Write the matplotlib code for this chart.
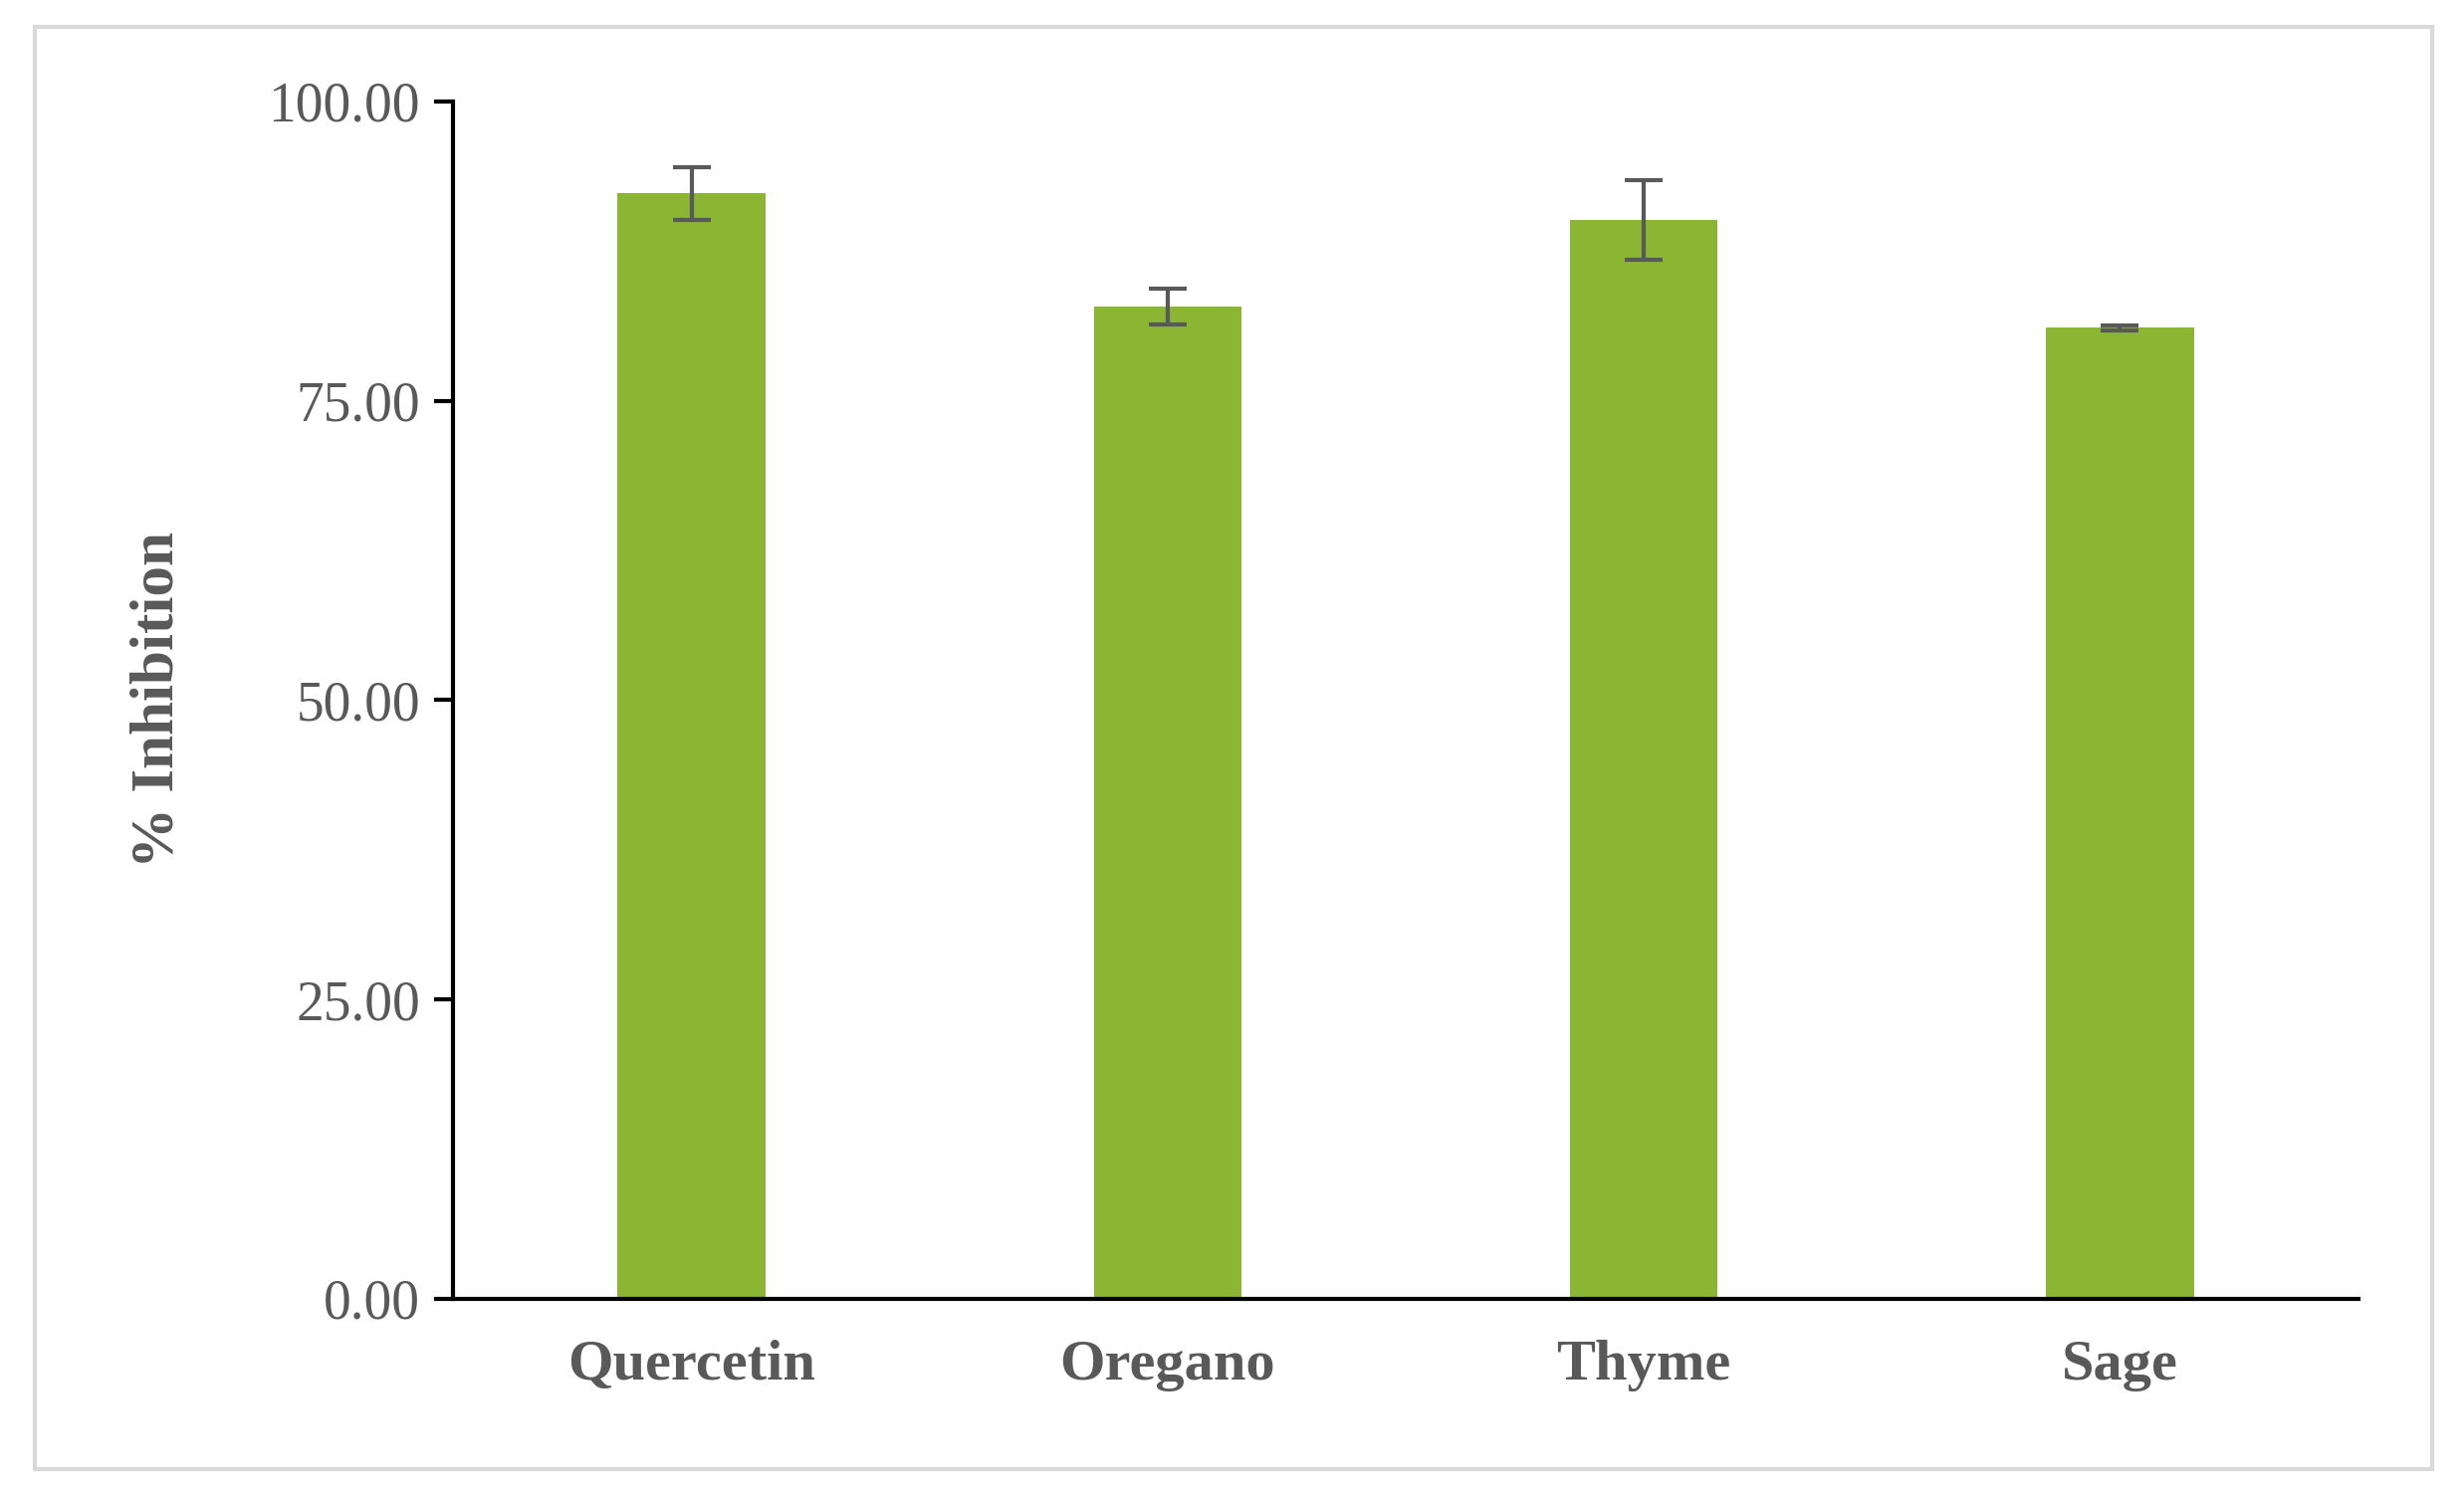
import matplotlib.pyplot as plt
from matplotlib.patches import Rectangle

# data
samples = ["Quercetin", "Oregano", "Thyme", "Sage"]
inhibition = [92.3, 82.9, 90.1, 81.1]
errors = [2.2, 1.5, 3.3, 0.2]
yticks = [0, 25, 50, 75, 100]

green = "#8AB633"
grey = "#595959"
plt.rcParams["font.family"] = ["Liberation Serif", "DejaVu Serif"]

fig = plt.figure(figsize=(24.75, 14.98), dpi=100)
# light grey frame around the whole chart
fig.patches.append(Rectangle((0.014, 0.015), 0.973, 0.967, transform=fig.transFigure,
                             fill=False, edgecolor="#D9D9D9", linewidth=3))
ax = fig.add_axes([0.184, 0.129, 0.773, 0.803])

x = range(len(samples))
ax.bar(x, inhibition, width=0.31, color=green, zorder=2)
ax.errorbar(x, inhibition, yerr=errors, fmt="none", ecolor=grey,
            elinewidth=3, capsize=14, capthick=3, zorder=3)

ax.set_xlim(-0.5, len(samples) - 0.5)
ax.set_ylim(0, 100)
ax.set_yticks(yticks)
ax.set_yticklabels(["%.2f" % v for v in yticks], fontsize=40, color=grey)
ax.set_xticks(list(x))
ax.set_xticklabels(samples, fontsize=42, fontweight="bold", color=grey)
ax.tick_params(axis="x", length=0, pad=30)
ax.tick_params(axis="y", direction="out", length=14, width=3, pad=10)
ax.set_ylabel("% Inhibition", fontsize=44, fontweight="bold", color=grey, labelpad=60)

for side in ["top", "right"]:
    ax.spines[side].set_visible(False)
for side in ["left", "bottom"]:
    ax.spines[side].set_linewidth(3)
    ax.spines[side].set_color("black")

fig.savefig("out.png", dpi=100)
